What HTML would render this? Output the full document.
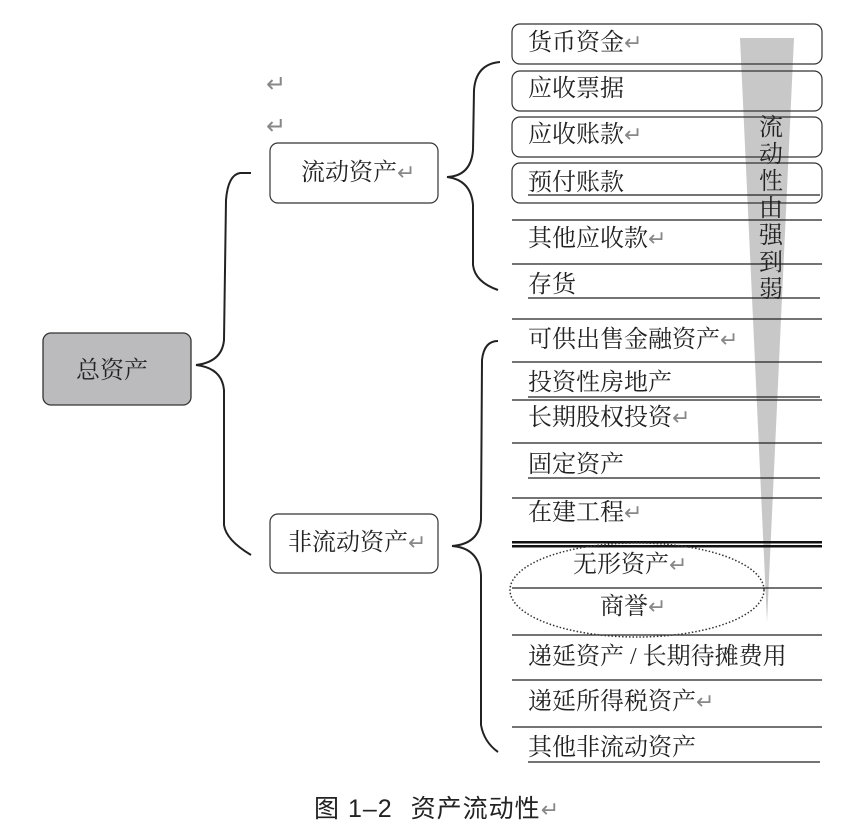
<!DOCTYPE html>
<html><head><meta charset="utf-8"><style>
html,body{margin:0;padding:0;background:#fff;}
svg text{font-family:"Liberation Serif","Noto Serif CJK SC",serif;fill:#222;}
.r{fill:#888;font-family:"Liberation Sans",sans-serif;}
</style></head><body>
<svg width="864" height="833" viewBox="0 0 864 833" xmlns="http://www.w3.org/2000/svg">
<polygon points="740,38 794,38 767,622" fill="#c8c8c8"/>
<rect x="43" y="333" width="148" height="72" rx="8" fill="#bbbbbd" stroke="#333" stroke-width="1.3"/>
<text x="76" y="378" font-size="24" font-family="Noto Serif CJK SC, serif">总资产</text>
<rect x="270" y="143" width="168" height="60" rx="8" fill="#fff" stroke="#333" stroke-width="1.2"/>
<text x="301" y="180" font-size="24" font-family="Noto Serif CJK SC, serif">流动资产<tspan class="r" font-size="22">↵</tspan></text>
<rect x="270" y="514" width="168" height="59" rx="8" fill="#fff" stroke="#333" stroke-width="1.2"/>
<text x="288" y="550" font-size="24" font-family="Noto Serif CJK SC, serif">非流动资产<tspan class="r" font-size="22">↵</tspan></text>
<text x="266" y="92" font-size="24" class="r">↵</text>
<text x="266" y="134" font-size="24" class="r">↵</text>
<g fill="none" stroke="#222" stroke-width="2">
<path d="M251,173 L240,173 Q228,175 226,200 L224,340 Q222,362 196,365 Q222,368 224,390 L224,525 Q226,540 251,555"/>
<path d="M500,62 Q476,64 474,90 L473,150 Q471,176 447,177 Q471,180 473,205 L473,265 Q475,282 498,290"/>
<path d="M498,341 Q484,341 482,360 L481,520 Q479,544 452,546 Q479,548 481,575 L481,725 Q484,742 498,752"/>
</g>
<g fill="none" stroke="#333" stroke-width="1.2">
<rect x="512" y="24" width="310" height="40" rx="8"/>
<rect x="512" y="71" width="310" height="40" rx="8"/>
<rect x="512" y="117" width="310" height="40" rx="8"/>
<rect x="512" y="163" width="310" height="40" rx="8"/>
</g>
<g stroke="#222" stroke-width="1.2">
<line x1="528" y1="195" x2="820" y2="195"/>
<line x1="512" y1="220" x2="822" y2="220"/>
<line x1="512" y1="264" x2="822" y2="264"/>
<line x1="528" y1="298" x2="820" y2="298"/>
<line x1="512" y1="319" x2="822" y2="319"/>
<line x1="512" y1="362" x2="822" y2="362"/>
<line x1="528" y1="397" x2="820" y2="397"/>
<line x1="512" y1="400" x2="822" y2="400"/>
<line x1="512" y1="443" x2="822" y2="443"/>
<line x1="528" y1="478" x2="820" y2="478"/>
<line x1="512" y1="498" x2="822" y2="498"/>
<line x1="512" y1="588" x2="822" y2="588"/>
<line x1="512" y1="635" x2="822" y2="635"/>
<line x1="512" y1="680" x2="822" y2="680"/>
<line x1="512" y1="727" x2="822" y2="727"/>
<line x1="528" y1="762" x2="820" y2="762"/>
</g>
<rect x="512" y="541" width="310" height="2.5" fill="#111"/>
<rect x="512" y="545" width="310" height="2.5" fill="#111"/>
<ellipse cx="637" cy="590" rx="127" ry="47" fill="none" stroke="#333" stroke-width="1.5" stroke-dasharray="1.5 2"/>
<g font-size="24" font-family="Noto Serif CJK SC, serif">
<text x="528" y="50">货币资金<tspan class="r" font-size="22">↵</tspan></text>
<text x="528" y="96">应收票据</text>
<text x="528" y="142">应收账款<tspan class="r" font-size="22">↵</tspan></text>
<text x="528" y="190">预付账款</text>
<text x="528" y="246">其他应收款<tspan class="r" font-size="22">↵</tspan></text>
<text x="528" y="292">存货</text>
<text x="528" y="347">可供出售金融资产<tspan class="r" font-size="22">↵</tspan></text>
<text x="528" y="390">投资性房地产</text>
<text x="528" y="425">长期股权投资<tspan class="r" font-size="22">↵</tspan></text>
<text x="528" y="472">固定资产</text>
<text x="528" y="520">在建工程<tspan class="r" font-size="22">↵</tspan></text>
<text x="573" y="572">无形资产<tspan class="r" font-size="22">↵</tspan></text>
<text x="600" y="614">商誉<tspan class="r" font-size="22">↵</tspan></text>
<text x="528" y="664">递延资产 / 长期待摊费用</text>
<text x="528" y="709">递延所得税资产<tspan class="r" font-size="22">↵</tspan></text>
<text x="528" y="755">其他非流动资产</text>
</g>
<g font-size="24" font-family="Noto Serif CJK SC, serif">
<text x="759" y="135">流</text>
<text x="759" y="162">动</text>
<text x="759" y="189">性</text>
<text x="759" y="216">由</text>
<text x="759" y="243">强</text>
<text x="759" y="270">到</text>
<text x="759" y="297">弱</text>
</g>
<text x="314" y="817" font-size="25" letter-spacing="1" style="font-family:'Liberation Sans','Noto Sans CJK SC',sans-serif">图 1–2<tspan dx="18">资产流动性</tspan><tspan class="r" font-size="22">↵</tspan></text>
</svg>
</body></html>
